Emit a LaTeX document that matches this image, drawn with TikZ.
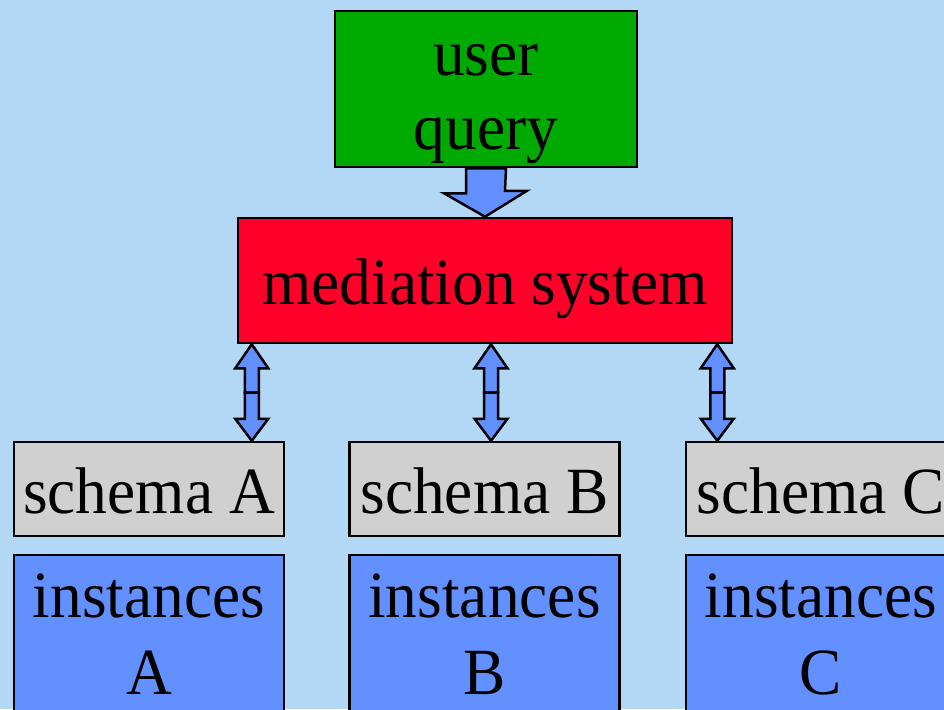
\documentclass[tikz,border=0pt]{standalone}
\usepackage{fontspec}
\setmainfont{Liberation Serif}[FakeStretch=0.96]
\usetikzlibrary{calc}

\definecolor{bgblue}{RGB}{178,216,246}
\definecolor{querygreen}{RGB}{0,170,0}
\definecolor{medred}{RGB}{255,0,40}
\definecolor{schemagray}{RGB}{208,208,208}
\definecolor{instblue}{RGB}{98,144,255}

\tikzset{
  box/.style={draw=black, line width=2.5pt, rectangle, inner sep=0pt, font=\fontsize{66}{74}\selectfont},
  onerow/.style={text height=48pt, text depth=0pt},
  schemabox/.style={box, onerow, fill=schemagray, minimum width=270pt, minimum height=94pt},
  instbox/.style={box, onerow, fill=instblue, align=center, minimum width=270pt, minimum height=230pt,
    font=\fontsize{66}{77}\selectfont},
  blockarrow/.style={draw=black, line width=2.5pt, fill=instblue, line join=miter},
}

% two block arrows back to back, from #1 (top) to #2 (bottom)
\newcommand{\bothways}[2]{%
  \coordinate (mid) at ($(#1)!0.5!(#2)$);
  \draw[blockarrow] ($(mid)+(-7,0)$) -- ($(#1)+(-7,24)$) -- ($(#1)+(-16.5,24)$) -- (#1)
    -- ($(#1)+(16.5,24)$) -- ($(#1)+(7,24)$) -- ($(mid)+(7,0)$) -- cycle;
  \draw[blockarrow] ($(mid)+(-7,0)$) -- ($(#2)+(-7,-22)$) -- ($(#2)+(-16.5,-22)$) -- (#2)
    -- ($(#2)+(16.5,-22)$) -- ($(#2)+(7,-22)$) -- ($(mid)+(7,0)$) -- cycle;
}

\begin{document}
\begin{tikzpicture}[x=1pt, y=-1pt]
\fill[bgblue] (0,0) rectangle (944,709);
\clip (0,0) rectangle (944,709);

\node[box, fill=querygreen, align=center, minimum width=302pt, minimum height=156pt,
  text height=120pt, text depth=0pt] (query) at (486,89) {user\\query};
\node[box, onerow, fill=medred, minimum width=494pt, minimum height=125pt] (med) at (485,280.5) {mediation system};

\node[schemabox] (schA) at (149,489) {schema A};
\node[schemabox] (schB) at (484.5,489) {schema B};
\node[schemabox] (schC) at (821,489) {schema C};

\node[instbox] (instA) at (149,670) {instances\\A};
\node[instbox] (instB) at (484.5,670) {instances\\B};
\node[instbox] (instC) at (821,670) {instances\\C};

% query into the mediator
\draw[blockarrow] ($(query.south)+(-20,0)$) -- ++(0,25) -- ++(-22,0) -- (med.north)
  -- ++(42,-26) -- ++(-22,0) -- ($(query.south)+(20,0)$) -- cycle;

% mediator to the sources
\coordinate (tA) at ($(med.south west)+(15,0)$);
\coordinate (tB) at ($(med.south)+(6,0)$);
\coordinate (tC) at ($(med.south east)+(-16,0)$);
\foreach \s in {A,B,C} {
  \coordinate (b\s) at (t\s |- sch\s.north);
  \bothways{t\s}{b\s}
}
\end{tikzpicture}
\end{document}
